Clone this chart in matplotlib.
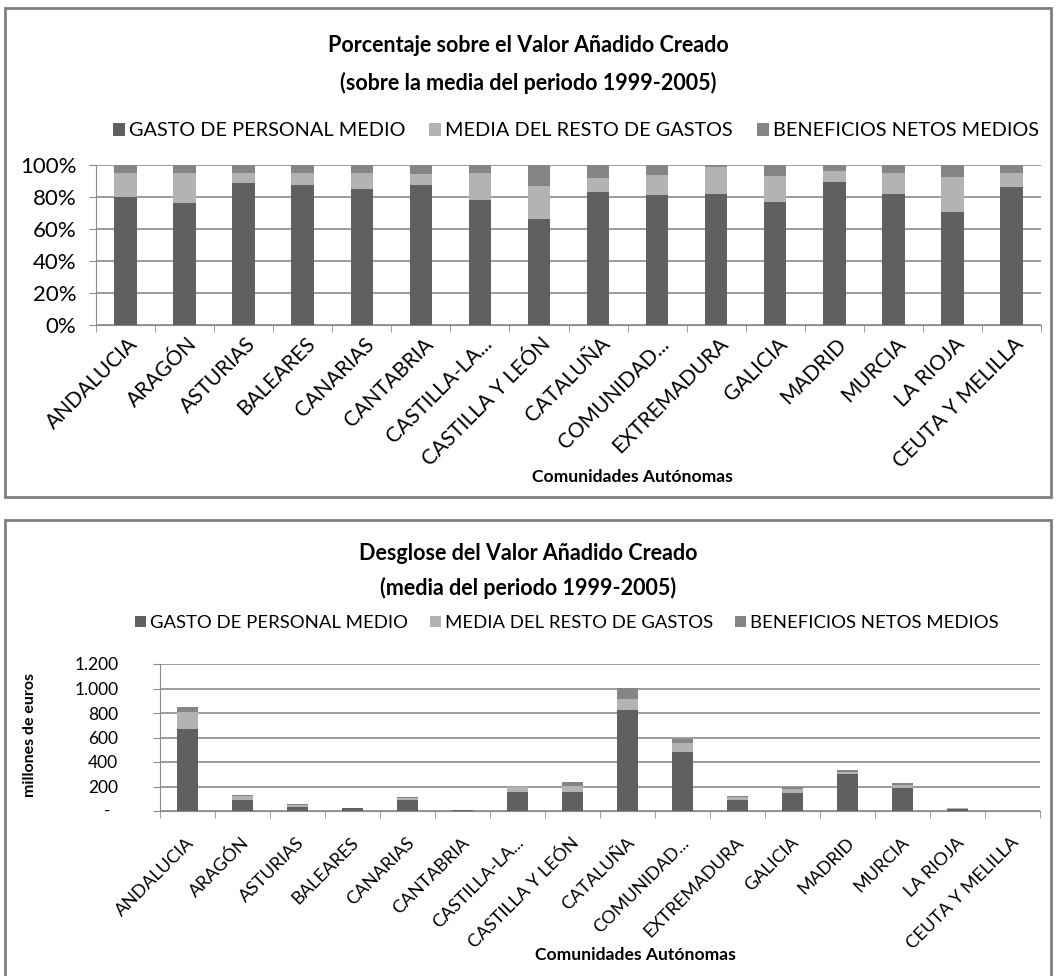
import numpy as np
import matplotlib
matplotlib.use('Agg')
import matplotlib.pyplot as plt
from matplotlib.patches import Rectangle, Patch
from matplotlib.transforms import offset_copy

plt.rcParams['font.family'] = ['Lato', 'DejaVu Sans']

comunidades = ['ANDALUCIA', 'ARAGÓN', 'ASTURIAS', 'BALEARES', 'CANARIAS',
               'CANTABRIA', 'CASTILLA-LA...', 'CASTILLA Y LEÓN', 'CATALUÑA',
               'COMUNIDAD...', 'EXTREMADURA', 'GALICIA', 'MADRID', 'MURCIA',
               'LA RIOJA', 'CEUTA Y MELILLA']
series = ['GASTO DE PERSONAL MEDIO', 'MEDIA DEL RESTO DE GASTOS',
          'BENEFICIOS NETOS MEDIOS']

# percentages (top chart)
pct_personal = [80, 76, 89, 87.5, 85, 87.5, 78, 66, 83, 81, 82, 77, 89.5, 82, 70.5, 86]
pct_resto = [15, 19, 6, 7.5, 10, 7, 17, 21, 9, 13, 17, 16, 7, 13, 22, 9]
pct_benef = [5, 5, 5, 5, 5, 5.5, 5, 13, 8, 6, 1, 7, 3.5, 5, 7.5, 5]

# millions of euros (bottom chart)
mill_personal = [669, 92, 32, 22, 89, 7, 154, 154, 824, 482, 92, 146, 300, 186, 20, 1]
mill_resto = [139, 27, 17, 1.5, 14, 0.5, 43, 54, 88, 73, 22, 35, 19, 30, 1.5, 0.2]
mill_benef = [38, 11, 8, 0.5, 11, 0.5, 3, 27, 89, 33, 8, 16, 13, 11, 0.5, 0.1]

pct_ticks = [0, 20, 40, 60, 80, 100]
pct_labels = ['0%', '20%', '40%', '60%', '80%', '100%']
mill_ticks = [0, 200, 400, 600, 800, 1000, 1200]
mill_labels = ['', '200', '400', '600', '800', '1.000', '1.200']

colors = ['#606060', '#b3b3b3', '#858585']
grid_c = '#8a8a8a'

W, H = 1056, 976
fig = plt.figure(figsize=(W / 100, H / 100), dpi=100)


def px_axes(l, t, r, b):
    return fig.add_axes([l / W, 1 - b / H, (r - l) / W, (b - t) / H])


def panel(l, t, r, b):
    fig.patches.append(Rectangle((l / W, 1 - b / H), (r - l) / W, (b - t) / H,
                                 transform=fig.transFigure, fill=False,
                                 edgecolor='#808080', lw=2))


def stacked(ax, data, width, lab_dx, lab_dy, lab_size):
    x = np.arange(len(comunidades))
    bottom = np.zeros(len(x))
    for vals, c in zip(data, colors):
        ax.bar(x, vals, width, bottom=bottom, color=c, zorder=3)
        bottom += np.array(vals)
    ax.set_xlim(-0.5, len(x) - 0.5)
    ax.set_xticks(x, [''] * len(x))
    ax.set_xticks(np.arange(len(x) + 1) - 0.5, minor=True)
    ax.tick_params(axis='x', which='major', length=0)
    ax.tick_params(axis='x', which='minor', length=5, color=grid_c)
    ax.tick_params(axis='y', length=5, color=grid_c)
    ax.yaxis.grid(True, color=grid_c, lw=1.2, zorder=0)
    for s in ['top', 'right']:
        ax.spines[s].set_visible(False)
    for s in ['left', 'bottom']:
        ax.spines[s].set_color(grid_c)
    # rotated category labels
    trans = offset_copy(ax.get_xaxis_transform(), fig=fig,
                        x=lab_dx * 0.72, y=-lab_dy * 0.72, units='points')
    for i, name in enumerate(comunidades):
        ax.text(i, 0, name, transform=trans, rotation=45, ha='right',
                va='center', rotation_mode='anchor', fontsize=lab_size)


handles = [Patch(facecolor=c, edgecolor='none') for c in colors]

# ---- top chart
panel(5, 8, 1051, 497)
fig.text(528 / W, 1 - 46 / H, 'Porcentaje sobre el Valor Añadido Creado',
         ha='center', va='center', fontsize=15.5, fontweight='bold')
fig.text(528 / W, 1 - 83 / H, '(sobre la media del periodo 1999-2005)',
         ha='center', va='center', fontsize=15.5, fontweight='bold')
fig.legend(handles, series, loc='center', ncol=3,
           bbox_to_anchor=(576 / W, 1 - 131 / H), frameon=False,
           fontsize=14.3, handlelength=0.6, handleheight=0.6,
           handletextpad=0.2, columnspacing=1.2)

ax1 = px_axes(96, 165, 1041, 325)
stacked(ax1, [pct_personal, pct_resto, pct_benef], 0.38, 9, 16, 15)
ax1.set_ylim(0, 100)
ax1.set_yticks(pct_ticks)
ax1.set_yticklabels(pct_labels, fontsize=16)
ax1.tick_params(axis='y', pad=9)
fig.text(632 / W, 1 - 477 / H, 'Comunidades Autónomas', ha='center',
         va='center', fontsize=12.6, fontweight='bold')

# ---- bottom chart
panel(5, 520, 1051, 990)
fig.text(528 / W, 1 - 553 / H, 'Desglose del Valor Añadido Creado',
         ha='center', va='center', fontsize=15.5, fontweight='bold')
fig.text(528 / W, 1 - 588 / H, '(media del periodo 1999-2005)',
         ha='center', va='center', fontsize=15.5, fontweight='bold')
fig.legend(handles, series, loc='center', ncol=3,
           bbox_to_anchor=(567 / W, 1 - 623 / H), frameon=False,
           fontsize=13.3, handlelength=0.6, handleheight=0.6,
           handletextpad=0.2, columnspacing=1.2)

ax2 = px_axes(160, 664, 1040, 811)
stacked(ax2, [mill_personal, mill_resto, mill_benef], 0.39, 4, 29, 13)
ax2.set_ylim(0, 1200)
ax2.set_yticks(mill_ticks)
ax2.set_yticklabels(mill_labels, fontsize=12.5)
ax2.tick_params(axis='y', pad=25)
ax2.text(-0.060, 0, '-', transform=ax2.get_yaxis_transform(), ha='center',
         va='center', fontsize=12.5)
fig.text(30 / W, 1 - 735 / H, 'millones de euros', rotation=90, ha='center',
         va='center', fontsize=11.5, fontweight='bold')
fig.text(635 / W, 1 - 955 / H, 'Comunidades Autónomas', ha='center',
         va='center', fontsize=12.6, fontweight='bold')

fig.savefig('out.png', dpi=100)
